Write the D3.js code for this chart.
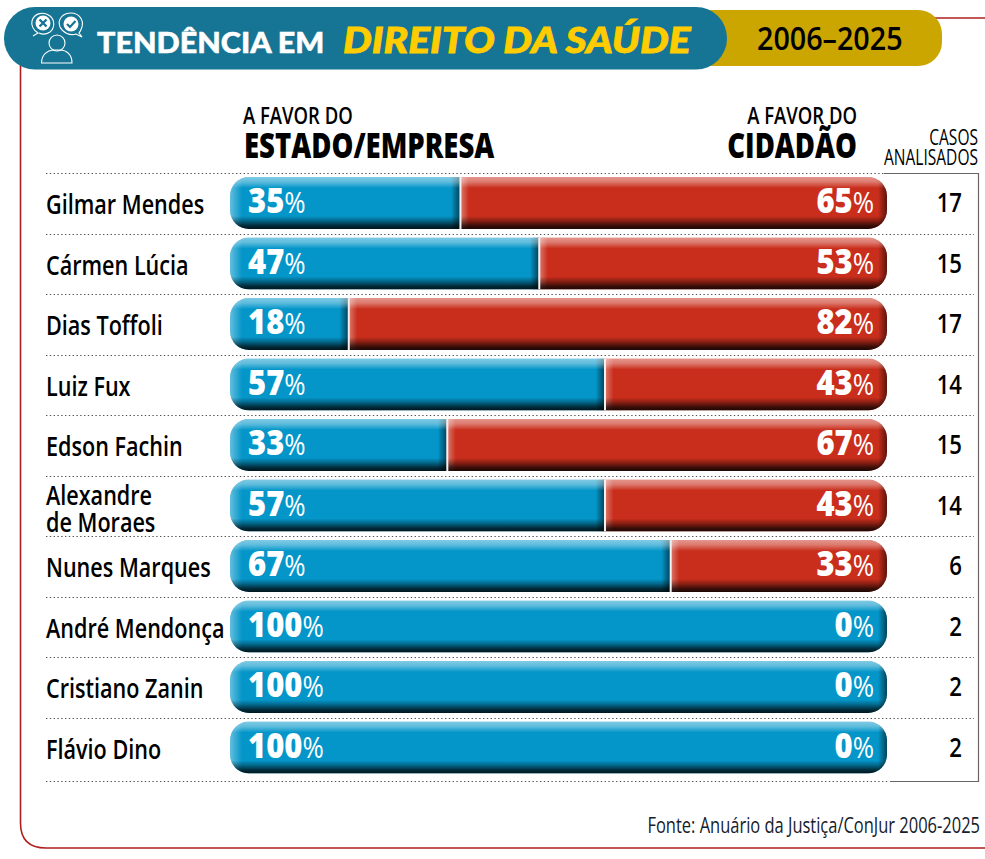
<!DOCTYPE html>
<html lang="pt">
<head>
<meta charset="utf-8">
<script src="https://cdn.jsdelivr.net/npm/d3@7"></script>
<style>
html,body{margin:0;padding:0;background:#fff}
svg{display:block}
</style>
</head>
<body>
<svg id="chart" width="985" height="859"></svg>
<script>
const ministers = ["Gilmar Mendes","Cármen Lúcia","Dias Toffoli","Luiz Fux","Edson Fachin","Alexandre\nde Moraes","Nunes Marques","André Mendonça","Cristiano Zanin","Flávio Dino"];
const favorEstado = [35,47,18,57,33,57,67,100,100,100];
const favorCidadao = [65,53,82,43,67,43,33,0,0,0];
const casos = [17,15,17,14,15,14,6,2,2,2];

const BLUE = "#0496c9", RED = "#c92e1c", TEAL = "#167594", GOLD = "#cca600", LINE = "#ae1f1f", YELLOW = "#ffcc00";
const BODY = "'Open Sans', sans-serif";

const svg = d3.select("#chart");
const defs = svg.append("defs");

// Bevel shading shared by every bar
function gradient(id, dir, stops) {
  const g = defs.append("linearGradient").attr("id", id);
  if (dir === "y") g.attr("x1",0).attr("x2",0).attr("y1",0).attr("y2",1);
  else g.attr("x1",0).attr("x2",1).attr("y1",0).attr("y2",0);
  stops.forEach(([o,c,a]) => g.append("stop").attr("offset",o).attr("stop-color",c).attr("stop-opacity",a));
}
gradient("bevelTop","y",[[0,"#fff",.5],[.45,"#fff",.36],[1,"#fff",0]]);
gradient("bevelBottom","y",[[0,"#000",0],[.35,"#000",.3],[.75,"#000",.72],[1,"#000",.85]]);
gradient("bevelLeft","x",[[0,"#fff",.38],[1,"#fff",0]]);
gradient("bevelRight","x",[[0,"#000",0],[1,"#000",.55]]);

// Condensed type is obtained by squeezing the glyphs horizontally
function label(parent, x, y, str, o) {
  const t = parent.append("text")
    .attr("transform", `translate(${x},${y}) scale(${o.sx||1},1)`)
    .attr("text-anchor", o.anchor || "start")
    .attr("font-family", o.family || BODY)
    .attr("font-size", o.size)
    .attr("font-weight", o.weight || 400)
    .attr("font-style", o.style || "normal")
    .attr("fill", o.fill || "#000")
    .text(str);
  if (o.stroke) t.attr("stroke", o.fill || "#000").attr("stroke-width", o.stroke);
  return t;
}

// Red frame running behind the header
const frame = d3.path();
frame.moveTo(20.5,60);
frame.lineTo(20.5,823);
frame.quadraticCurveTo(20.5,848,46,848);
frame.lineTo(985,848);
svg.append("path").attr("d",frame.toString()).attr("fill","none").attr("stroke",LINE).attr("stroke-width",1.6);
svg.append("line").attr("x1",900).attr("x2",985).attr("y1",18).attr("y2",18).attr("stroke",LINE).attr("stroke-width",1.4);

// Header pills
svg.append("rect").attr("x",640).attr("y",10).attr("width",302).attr("height",56).attr("rx",24).attr("fill",GOLD);
svg.append("rect").attr("x",4).attr("y",7).attr("width",723).attr("height",62.5).attr("rx",31).attr("fill",TEAL);

// Header icon: two speech bubbles over a person
const icon = svg.append("g").attr("fill","none").attr("stroke","#fff").attr("stroke-width",1.1);
icon.append("path").attr("d","M33 36 L38 33 C33 30 31 25 32 21 C34 13 44 11 50 16 C55 20 55 28 50 32 C47 34 43 35 39 33");
icon.append("path").attr("d","M82 37 L76 34 C70 36 63 33 60 27 C57 19 63 13 71 13 C79 13 84 20 82 27 C81 30 80 32 79 33 Z");
icon.append("circle").attr("cx",43).attr("cy",23).attr("r",7.5).attr("fill","#fff").attr("stroke","none");
icon.append("circle").attr("cx",71).attr("cy",24).attr("r",7.5).attr("fill","#fff").attr("stroke","none");
icon.append("path").attr("d","M39.5 19.5 L46.5 26.5 M46.5 19.5 L39.5 26.5").attr("stroke",TEAL).attr("stroke-width",2.4);
icon.append("path").attr("d","M67 24 L70 27 L75.5 21").attr("stroke",TEAL).attr("stroke-width",2.2);
icon.append("circle").attr("cx",57).attr("cy",43).attr("r",8);
icon.append("path").attr("d","M41.5 63 C41.5 54 48 50.5 53 50 L61 50 C67 50.5 72 55 72 63 Z");

label(svg,97,53,"TENDÊNCIA EM",{family:"Lato",size:28,weight:900,fill:"#fff",sx:1.09,stroke:.5});
label(svg,343,53,"DIREITO DA SAÚDE",{family:"Lato",size:37,weight:900,style:"italic",fill:YELLOW,sx:1.1,stroke:.8});
label(svg,757,50,"2006–2025",{size:33,weight:600,sx:.87});

// Column headings
label(svg,243,124,"A FAVOR DO",{size:24,weight:600,sx:.77});
label(svg,244,158,"ESTADO/EMPRESA",{size:36,weight:800,sx:.765});
label(svg,857,124,"A FAVOR DO",{size:24,weight:600,sx:.77,anchor:"end"});
label(svg,857,158,"CIDADÃO",{size:36,weight:800,sx:.765,anchor:"end"});
label(svg,978,145,"CASOS",{size:21,weight:500,sx:.74,anchor:"end"});
label(svg,978,165,"ANALISADOS",{size:21,weight:500,sx:.74,anchor:"end"});

// Scales
const x = d3.scaleLinear().domain([0,100]).range([230,887]);
const y = d3.scaleBand().domain(d3.range(ministers.length)).range([173.5,778.5]);
const barTop = i => y(i) + 3.5;
const barH = 52;
const ruleEnd = i => (i === 0 ? 884 : i === ministers.length ? 889 : 974);
const ruleY = i => (i === ministers.length ? 781.5 : Math.floor(y(i)) + .5);

// Dotted separators and the box around the case counts
d3.range(ministers.length + 1).forEach(i => {
  svg.append("line").attr("x1",46).attr("x2",ruleEnd(i)).attr("y1",ruleY(i)).attr("y2",ruleY(i))
    .attr("stroke","#555").attr("stroke-width",1).attr("stroke-dasharray","1.4 2.4");
});
svg.append("path").attr("d","M884 173.5 H978.5 V781.5 H890").attr("fill","none").attr("stroke","#666").attr("stroke-width",1.2);

// One row per minister
ministers.forEach((name,i) => {
  const row = svg.append("g");
  const top = barTop(i);
  const mid = x(favorEstado[i]);
  const clipId = "clip" + i;
  defs.append("clipPath").attr("id",clipId).append("rect")
    .attr("x",x(0)).attr("y",top).attr("width",x(100)-x(0)).attr("height",barH).attr("rx",19);

  const bar = row.append("g").attr("clip-path",`url(#${clipId})`);
  bar.append("rect").attr("x",x(0)).attr("y",top).attr("width",mid-x(0)).attr("height",barH).attr("fill",BLUE);
  bar.append("rect").attr("x",mid).attr("y",top).attr("width",x(favorEstado[i]+favorCidadao[i])-mid).attr("height",barH).attr("fill",RED);

  // Side bevels of each segment
  bar.append("rect").attr("x",x(0)).attr("y",top).attr("width",12).attr("height",barH).attr("fill","url(#bevelLeft)");
  bar.append("rect").attr("x",mid-9).attr("y",top).attr("width",9).attr("height",barH).attr("fill","url(#bevelRight)");
  if (favorCidadao[i] > 0) {
    bar.append("rect").attr("x",mid).attr("y",top).attr("width",9).attr("height",barH).attr("fill","url(#bevelLeft)");
    bar.append("rect").attr("x",x(100)-9).attr("y",top).attr("width",9).attr("height",barH).attr("fill","url(#bevelRight)");
  }
  // Top highlight and bottom shadow
  bar.append("rect").attr("x",x(0)).attr("y",top).attr("width",x(100)-x(0)).attr("height",11).attr("fill","url(#bevelTop)");
  bar.append("rect").attr("x",x(0)).attr("y",top+barH-13).attr("width",x(100)-x(0)).attr("height",13).attr("fill","url(#bevelBottom)");
  // Thin divider between the two segments
  if (favorCidadao[i] > 0) {
    bar.append("rect").attr("x",mid-.5).attr("y",top).attr("width",2).attr("height",barH).attr("fill","#f1f1f1");
  }

  const base = top + 36;
  const left = label(row,248,base,"",{size:36,weight:800,fill:"#fff",sx:.86});
  left.append("tspan").text(favorEstado[i]);
  left.append("tspan").attr("font-weight",400).attr("font-size",30).text("%");
  const right = label(row,874,base,"",{size:36,weight:800,fill:"#fff",sx:.86,anchor:"end"});
  right.append("tspan").text(favorCidadao[i]);
  right.append("tspan").attr("font-weight",400).attr("font-size",30).text("%");

  const lines = name.split("\n");
  lines.forEach((ln,k) => {
    const by = lines.length === 1 ? top + 37 : top + 25 + k * 27;
    label(row,46,by,ln,{size:27,weight:600,sx:.8});
  });
  label(row,962,top+35,casos[i],{size:27,weight:600,sx:.82,anchor:"end"});
});

label(svg,980,833,"Fonte: Anuário da Justiça/ConJur 2006-2025",{size:21,weight:400,sx:.785,anchor:"end",fill:"#14202c"});
</script>
</body>
</html>
